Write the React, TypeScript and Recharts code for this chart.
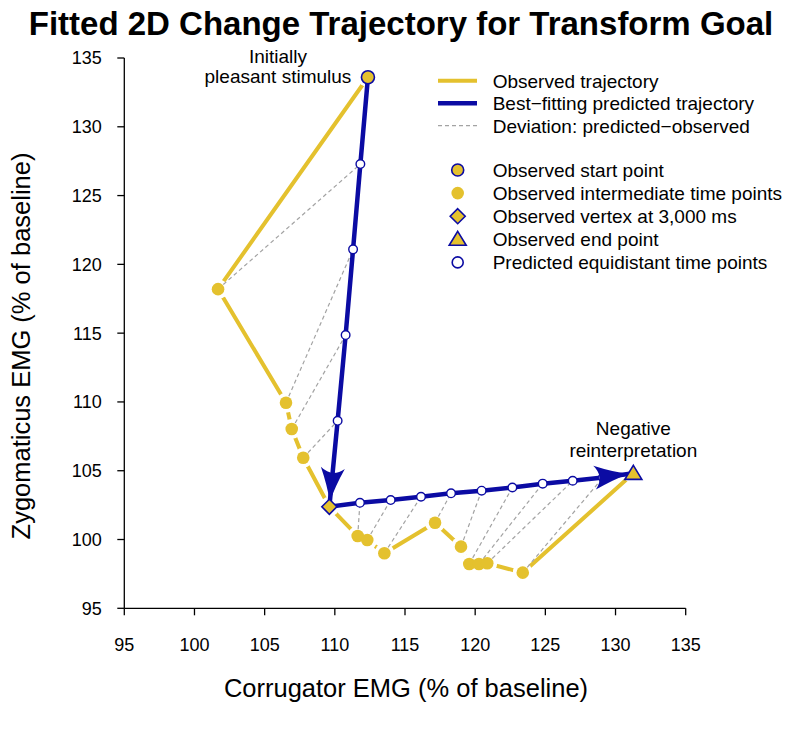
import { ScatterChart, Scatter, XAxis, YAxis } from "recharts";

const FONT = "'Liberation Sans', Arial, Helvetica, sans-serif";
const YELLOW = "#E4C12E";
const BLUE = "#0B0BA3";
const GRAY = "#A3A3A3";

const X_TICKS = [95, 100, 105, 110, 115, 120, 125, 130, 135];
const Y_TICKS = [95, 100, 105, 110, 115, 120, 125, 130, 135];

// observed trajectory: start, intermediate points, vertex at 3,000 ms, end
const obsX = [112.36, 101.68, 106.52, 106.93, 107.75, 109.61, 111.63, 112.31, 113.53, 117.14, 118.99, 119.58, 120.27, 120.86, 123.39, 131.27];
const obsY = [133.6, 118.2, 109.94, 108.03, 105.94, 102.38, 100.25, 99.96, 99.0, 101.22, 99.48, 98.22, 98.22, 98.27, 97.59, 104.81];
const obsKind = ["start", "mid", "mid", "mid", "mid", "vertex", "mid", "mid", "mid", "mid", "mid", "mid", "mid", "mid", "mid", "end"];

// best-fitting predicted trajectory, equidistant time points
const predX = [112.36, 111.82, 111.3, 110.77, 110.2, 109.61, 111.79, 113.98, 116.14, 118.28, 120.46, 122.65, 124.81, 126.95, 129.11, 131.27];
const predY = [133.6, 127.29, 121.09, 114.86, 108.63, 102.38, 102.67, 102.87, 103.11, 103.36, 103.55, 103.78, 104.06, 104.27, 104.51, 104.81];

const W = 788;
const H = 731;
const M = { top: 58, right: 102.3, bottom: 0, left: 0 };
const Y_AXIS_W = 124.3;
const X_AXIS_H = 122.7;
const PLOT_W = W - M.left - M.right - Y_AXIS_W;
const PLOT_H = H - M.top - M.bottom - X_AXIS_H;
const PX_PER_X = PLOT_W / (X_TICKS[X_TICKS.length - 1] - X_TICKS[0]);
const PX_PER_Y = PLOT_H / (Y_TICKS[Y_TICKS.length - 1] - Y_TICKS[0]);

const observed = obsX.map((x, i) => ({ x, y: obsY[i], kind: obsKind[i] }));
const predicted = predX.map((x, i) => ({ x, y: predY[i], kind: obsKind[i] }));
const deviations = obsX.map((x, i) => [
  { x, y: obsY[i] },
  { x: predX[i], y: predY[i] },
]);
const anchors = observed.filter((d) => d.kind !== "mid");
const start = anchors[0];
const vertex = anchors[1];
const end = anchors[2];
const arrows = [
  { x: vertex.x, y: vertex.y, fromX: start.x, fromY: start.y },
  { x: end.x, y: end.y, fromX: vertex.x, fromY: vertex.y },
];

const Nothing = () => <g />;
const Halo = (p: any) => <circle cx={p.cx} cy={p.cy} r={10} fill="#fff" />;
const OpenCircle = (p: any) =>
  p.payload.kind === "mid" ? (
    <circle cx={p.cx} cy={p.cy} r={4.3} fill="#fff" stroke={BLUE} strokeWidth={1.4} />
  ) : (
    <g />
  );
const Dot = (p: any) => <circle cx={p.cx} cy={p.cy} r={6.3} fill={YELLOW} />;

const Arrowhead = (p: any) => {
  const { cx, cy, payload } = p;
  const ang =
    (Math.atan2(-(payload.y - payload.fromY) * PX_PER_Y, (payload.x - payload.fromX) * PX_PER_X) * 180) / Math.PI;
  return (
    <g transform={`translate(${cx},${cy}) rotate(${ang}) translate(-5,0)`}>
      <path d="M0,0 Q-16,-4 -34,-12 Q-24,0 -34,12 Q-16,4 0,0Z" fill={BLUE} />
    </g>
  );
};

const Anchor = (p: any) => {
  const { cx, cy, payload } = p;
  if (payload.kind === "start") {
    return (
      <g>
        <circle cx={cx} cy={cy} r={6.5} fill={YELLOW} stroke={BLUE} strokeWidth={1.6} />
        <text x={cx - 90} y={cy - 14.7} textAnchor="middle" fontSize={19} fontFamily={FONT}>
          Initially
        </text>
        <text x={cx - 90} y={cy + 5.7} textAnchor="middle" fontSize={19} fontFamily={FONT}>
          pleasant stimulus
        </text>
      </g>
    );
  }
  if (payload.kind === "vertex") {
    return (
      <path
        d={`M${cx},${cy - 7.5}L${cx + 7.5},${cy}L${cx},${cy + 7.5}L${cx - 7.5},${cy}Z`}
        fill={YELLOW}
        stroke={BLUE}
        strokeWidth={1.6}
      />
    );
  }
  return (
    <g>
      <path
        d={`M${cx},${cy - 8}L${cx + 8.5},${cy + 6}L${cx - 8.5},${cy + 6}Z`}
        fill={YELLOW}
        stroke={BLUE}
        strokeWidth={1.6}
      />
      <text x={cx} y={cy - 38.3} textAnchor="middle" fontSize={19} fontFamily={FONT}>
        Negative
      </text>
      <text x={cx} y={cy - 16.6} textAnchor="middle" fontSize={19} fontFamily={FONT}>
        reinterpretation
      </text>
    </g>
  );
};

const legendLines = [
  { label: "Observed trajectory", stroke: YELLOW, width: 4, dash: undefined },
  { label: "Best\u2212fitting predicted trajectory", stroke: BLUE, width: 4.5, dash: undefined },
  { label: "Deviation: predicted\u2212observed", stroke: GRAY, width: 1.2, dash: "4 3" },
];
const legendPoints = [
  "Observed start point",
  "Observed intermediate time points",
  "Observed vertex at 3,000 ms",
  "Observed end point",
  "Predicted equidistant time points",
];

const LegendSymbol = ({ i, x, y }: { i: number; x: number; y: number }) => {
  if (i === 0) return <circle cx={x} cy={y} r={6} fill={YELLOW} stroke={BLUE} strokeWidth={1.6} />;
  if (i === 1) return <circle cx={x} cy={y} r={6.3} fill={YELLOW} />;
  if (i === 2)
    return (
      <path d={`M${x},${y - 7.5}L${x + 7.5},${y}L${x},${y + 7.5}L${x - 7.5},${y}Z`} fill={YELLOW} stroke={BLUE} strokeWidth={1.6} />
    );
  if (i === 3)
    return <path d={`M${x},${y - 8}L${x + 8.5},${y + 6}L${x - 8.5},${y + 6}Z`} fill={YELLOW} stroke={BLUE} strokeWidth={1.6} />;
  return <circle cx={x} cy={y} r={5.5} fill="#fff" stroke={BLUE} strokeWidth={1.6} />;
};

export default function App() {
  const tick = { fill: "#000", fontSize: 18, fontFamily: FONT };
  return (
    <div style={{ position: "absolute", left: 0, top: 0, width: W, height: H, background: "#fff" }}>
      <ScatterChart width={W} height={H} margin={M}>
        <XAxis
          type="number"
          dataKey="x"
          domain={[95, 135]}
          ticks={X_TICKS}
          interval={0}
          height={X_AXIS_H}
          tickSize={7}
          tickMargin={23}
          tick={tick}
          stroke="#000"
          strokeWidth={1.3}
        />
        <YAxis
          type="number"
          dataKey="y"
          domain={[95, 135]}
          ticks={Y_TICKS}
          interval={0}
          width={Y_AXIS_W}
          tickSize={7}
          tickMargin={15.5}
          tick={tick}
          stroke="#000"
          strokeWidth={1.3}
        />
        <Scatter
          data={observed}
          line={{ stroke: YELLOW, strokeWidth: 4 }}
          lineType="joint"
          shape={Halo}
          isAnimationActive={false}
        />
        {deviations.map((seg, i) => (
          <Scatter
            key={`dev-${i}`}
            data={seg}
            line={{ stroke: GRAY, strokeWidth: 1.2, strokeDasharray: "4 3" }}
            lineType="joint"
            shape={Nothing}
            isAnimationActive={false}
          />
        ))}
        <Scatter
          data={predicted}
          line={{ stroke: BLUE, strokeWidth: 4.5 }}
          lineType="joint"
          shape={OpenCircle}
          isAnimationActive={false}
        />
        <Scatter data={observed.filter((d) => d.kind === "mid")} shape={Dot} isAnimationActive={false} />
        <Scatter data={arrows} shape={Arrowhead} isAnimationActive={false} />
        <Scatter data={anchors} shape={Anchor} isAnimationActive={false} />
      </ScatterChart>
      <svg
        width={W}
        height={H}
        style={{ position: "absolute", left: 0, top: 0, pointerEvents: "none" }}
        fontFamily={FONT}
      >
        <text x={401} y={35} textAnchor="middle" fontSize={33} fontWeight="bold">
          Fitted 2D Change Trajectory for Transform Goal
        </text>
        <text x={406} y={697} textAnchor="middle" fontSize={25.5}>
          Corrugator EMG (% of baseline)
        </text>
        <text x={30} y={346} textAnchor="middle" fontSize={25.5} transform="rotate(-90 30 346)">
          Zygomaticus EMG (% of baseline)
        </text>
        {legendLines.map((l, i) => (
          <g key={l.label}>
            <line
              x1={438}
              x2={477}
              y1={80.7 + i * 22.5}
              y2={80.7 + i * 22.5}
              stroke={l.stroke}
              strokeWidth={l.width}
              strokeDasharray={l.dash}
            />
            <text x={492.7} y={80.7 + i * 22.5 + 6.8} fontSize={19}>
              {l.label}
            </text>
          </g>
        ))}
        {legendPoints.map((label, i) => (
          <g key={label}>
            <LegendSymbol i={i} x={457.7} y={170 + i * 23.1} />
            <text x={492.7} y={170 + i * 23.1 + 6.8} fontSize={19}>
              {label}
            </text>
          </g>
        ))}
      </svg>
    </div>
  );
}
